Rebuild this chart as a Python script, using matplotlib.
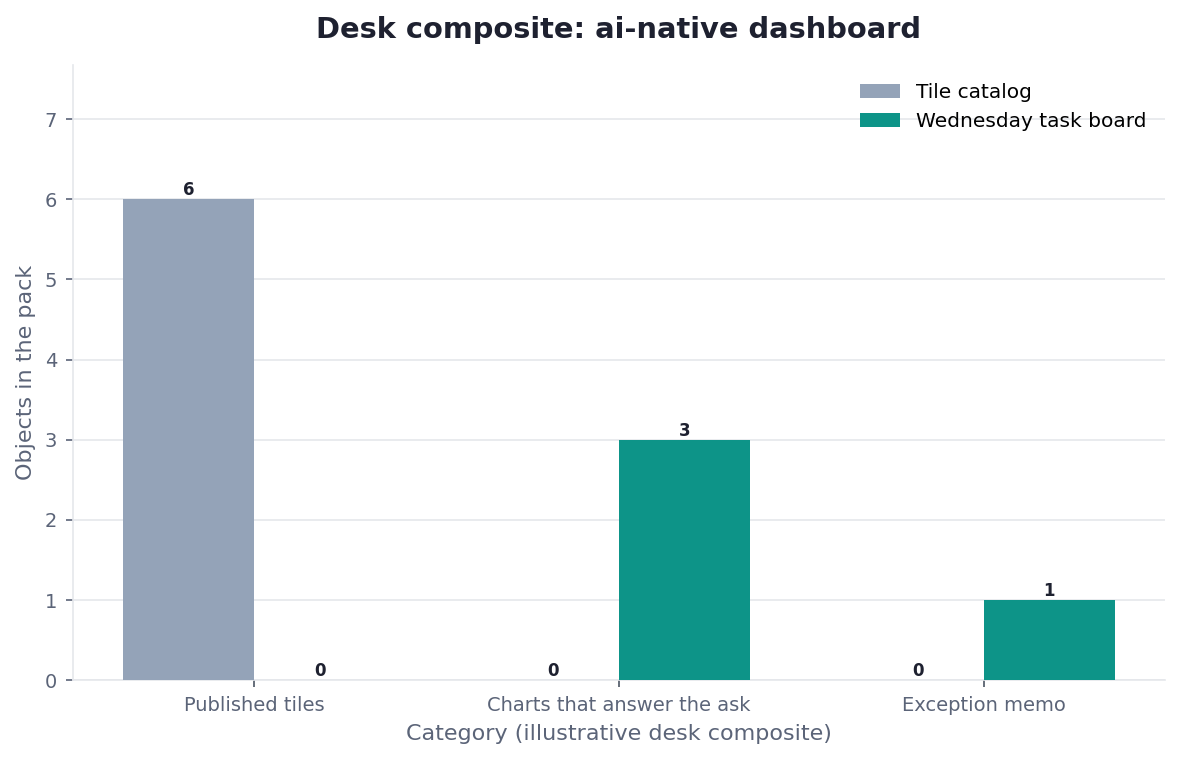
import numpy as np
import matplotlib
matplotlib.use("Agg")
import matplotlib.pyplot as plt

categories = ["Published tiles", "Charts that answer the ask", "Exception memo"]
tile_catalog = [6, 0, 0]
task_board = [0, 3, 1]
series_names = ["Tile catalog", "Wednesday task board"]

def plot_graph():
    plt.rcParams["font.family"] = ["DejaVu Sans"]
    fig, ax = plt.subplots(figsize=(11.8, 7.6), dpi=100)
    fig.subplots_adjust(left=0.062, right=0.987, top=0.915, bottom=0.105)

    x = np.arange(len(categories))
    w = 0.36
    b1 = ax.bar(x - w / 2, tile_catalog, w, color="#94a3b8", label=series_names[0], zorder=3)
    b2 = ax.bar(x + w / 2, task_board, w, color="#0d9488", label=series_names[1], zorder=3)

    # value labels on top of each bar
    for bars in (b1, b2):
        for r in bars:
            ax.annotate("%d" % r.get_height(), (r.get_x() + r.get_width() / 2, r.get_height()),
                        xytext=(0, 0), textcoords="offset points",
                        ha="center", va="bottom", fontsize=12, fontweight="bold", color="#1e2130")

    ax.set_ylim(0, 7.68)
    ax.set_xticks(x)
    ax.set_xticklabels(categories)
    ax.set_yticks(range(0, 8))
    ax.tick_params(axis="both", colors="#5b6478", labelsize=14, length=5, width=1.2, pad=6.5)
    ax.tick_params(axis="x", colors="#4b5563", labelcolor="#5b6478")
    ax.grid(axis="y", color="#e5e7eb", linewidth=1.2, zorder=0)
    for s in ("top", "right"):
        ax.spines[s].set_visible(False)
    for s in ("left", "bottom"):
        ax.spines[s].set_color("#e5e7eb")
        ax.spines[s].set_linewidth(1.2)

    ax.set_xlabel("Category (illustrative desk composite)", fontsize=16, color="#5b6478", labelpad=6)
    ax.set_ylabel("Objects in the pack", fontsize=16, color="#5b6478", labelpad=6)
    ax.set_title("Desk composite: ai-native dashboard", fontsize=20.8, fontweight="bold",
                 color="#1e2130", pad=19)
    ax.legend(frameon=False, fontsize=14.5, loc="upper right")

    fig.savefig("out.png", dpi=100)

plot_graph()
